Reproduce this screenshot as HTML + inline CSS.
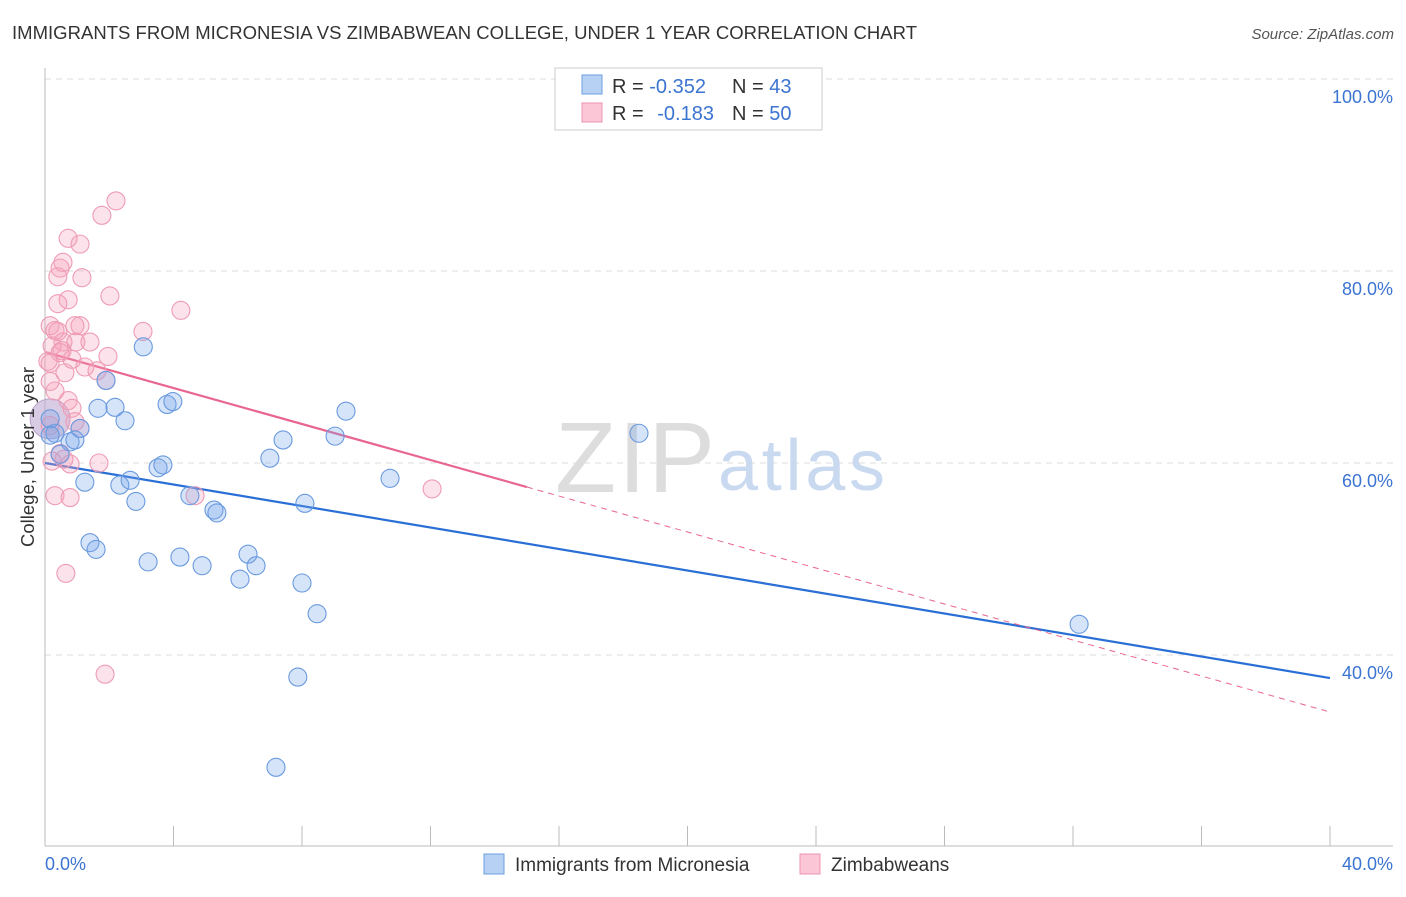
<!DOCTYPE html>
<html><head><meta charset="utf-8"><style>
body{margin:0;background:#fff;font-family:"Liberation Sans",sans-serif;}
svg text{font-family:"Liberation Sans",sans-serif;}
</style></head><body>
<svg width="1406" height="892" xmlns="http://www.w3.org/2000/svg">
<text x="12" y="39" font-size="18.5" fill="#333" textLength="905">IMMIGRANTS FROM MICRONESIA VS ZIMBABWEAN COLLEGE, UNDER 1 YEAR CORRELATION CHART</text>
<text x="1394" y="39" font-size="15" fill="#555" text-anchor="end" font-style="italic">Source: ZipAtlas.com</text>
<g id="grid"></g>
<text x="555" y="492" font-size="100" fill="#ddd" font-family="Liberation Serif" textLength="160">ZIP</text>
<text x="718" y="490" font-size="72" fill="#c9d9f0" textLength="167">atlas</text>
<g id="lines"></g>
<g id="pts"></g>
<text transform="translate(34,457) rotate(-90)" font-size="18.5" fill="#333" text-anchor="middle">College, Under 1 year</text>
<text x="45" y="870" font-size="18" fill="#3b74d1">0.0%</text>
<text x="1393" y="870" font-size="18" fill="#3b74d1" text-anchor="end">40.0%</text>
<g>
<rect x="555" y="68" width="267" height="62" fill="#fff" stroke="#ccc"/>
<rect x="582" y="75" width="20" height="19" fill="#b7d1f4" stroke="#6d9ee0"/>
<rect x="582" y="103" width="20" height="19" fill="#fbc7d6" stroke="#ec93ae"/>
<text x="612" y="93" font-size="20" fill="#333">R = <tspan fill="#3b74d1">-0.352</tspan><tspan x="732">N = </tspan><tspan fill="#3b74d1">43</tspan></text>
<text x="612" y="120" font-size="20" fill="#333">R = <tspan fill="#3b74d1" dx="8">-0.183</tspan><tspan x="732">N = </tspan><tspan fill="#3b74d1">50</tspan></text>
</g>
<g>
<rect x="484" y="854" width="20" height="20" fill="#b7d1f4" stroke="#6d9ee0"/>
<text x="515" y="871" font-size="19" fill="#333">Immigrants from Micronesia</text>
<rect x="800" y="854" width="20" height="20" fill="#fbc7d6" stroke="#ec93ae"/>
<text x="831" y="871" font-size="19" fill="#333">Zimbabweans</text>
</g>
</svg>
<script>
const yTicks=[100,80,60,40];
const blueX=[3.06,1.90,1.65,2.18,2.49,3.80,3.98,1.09,0.31,0.78,0.93,0.16,9.37,7.41,9.03,18.49,7.00,3.52,3.67,1.24,2.33,2.65,2.83,4.51,5.26,5.35,8.09,10.74,1.40,1.59,3.21,4.20,4.89,6.07,6.32,6.57,8.00,8.47,7.87,7.19,32.19,0.47,0.16];
const blueY=[72.1,68.6,65.7,65.8,64.4,66.1,66.4,63.6,63.1,62.2,62.4,64.6,65.4,62.4,62.8,63.1,60.5,59.5,59.8,58.0,57.7,58.2,56.0,56.6,55.1,54.8,55.8,58.4,51.7,51.0,49.7,50.2,49.3,47.9,50.5,49.3,47.5,44.3,37.7,28.3,43.2,60.9,62.9];
const pinkX=[2.21,1.77,0.72,1.09,0.56,0.47,0.40,1.15,0.72,0.40,2.02,4.23,3.05,0.16,0.31,0.93,0.22,0.47,0.84,0.96,0.56,1.96,1.24,1.62,0.62,0.16,0.31,0.16,1.90,0.72,0.84,0.93,0.47,0.78,1.68,0.31,0.78,4.67,12.05,0.65,1.87,0.16,0.09,0.53,1.40,0.40,0.22,1.09,0.59,1.09];
const pinkY=[87.3,85.8,83.4,82.8,80.9,80.3,79.4,79.3,77.0,76.6,77.4,75.9,73.7,74.3,73.8,74.3,72.2,71.5,70.8,72.6,72.6,71.1,70.0,69.6,69.4,70.4,67.5,68.5,68.6,66.5,65.7,64.3,61.0,59.9,60.0,56.6,56.4,56.6,57.3,48.5,38.0,63.9,70.6,71.7,72.6,73.7,60.2,63.6,60.4,74.3];
const blueTrend=[60.0,37.6];
const pinkTrend=[71.56,34.06];
const pinkSolidEnd=15.0;
const NS='http://www.w3.org/2000/svg';
const X=v=>45+v/40*1285, Y=v=>79+(100-v)*9.6;
function el(t,a,p){const e=document.createElementNS(NS,t);for(const k in a)e.setAttribute(k,a[k]);p.appendChild(e);return e;}
const grid=document.getElementById('grid');
yTicks.forEach(t=>{
 const l=el('line',{x1:45,x2:1393,y1:Y(t),y2:Y(t),stroke:'#ddd','stroke-dasharray':'6,5'},grid);
 
 
 const tx=el('text',{x:1393,y:Y(t)+24,'font-size':18,fill:'#3b74d1','text-anchor':'end'},grid);
 tx.textContent=t.toFixed(1)+'%';
 
 
});
const ax=el('line',{x1:45,x2:45,y1:68,y2:846,stroke:'#bbb'},grid);


const bx=el('line',{x1:45,x2:1393,y1:846,y2:846,stroke:'#bbb'},grid);


for(let i=1;i<=10;i++){const t=el('line',{x1:X(i*4),x2:X(i*4),y1:826,y2:846,stroke:'#bbb'},grid);
 
 }
const pts=document.getElementById('pts');
const big=el('circle',{cx:X(0.16),cy:Y(64.6),r:20,fill:'rgba(190,170,210,0.6)',stroke:'#b9a3c9'},pts);


pinkX.forEach((v,i)=>{const c=el('circle',{cx:X(v),cy:Y(pinkY[i]),r:9,fill:'rgba(245,160,185,0.3)',stroke:'#ee9cb5','stroke-width':1.1},pts);
 
 });
blueX.forEach((v,i)=>{const c=el('circle',{cx:X(v),cy:Y(blueY[i]),r:9,fill:'rgba(120,165,235,0.3)',stroke:'#6a9ade','stroke-width':1.1},pts);
 
 });
const lines=document.getElementById('lines');
const bt=el('line',{x1:X(0),y1:Y(blueTrend[0]),x2:X(40),y2:Y(blueTrend[1]),stroke:'#2a6fd6','stroke-width':2.2},lines);


const pAt=x=>pinkTrend[0]+(pinkTrend[1]-pinkTrend[0])*x/40;
const ps=el('line',{x1:X(0),y1:Y(pAt(0)),x2:X(pinkSolidEnd),y2:Y(pAt(pinkSolidEnd)),stroke:'#e8668f','stroke-width':2.2},lines);


const pd=el('line',{x1:X(pinkSolidEnd),y1:Y(pAt(pinkSolidEnd)),x2:X(40),y2:Y(pAt(40)),stroke:'#e8668f','stroke-width':1,'stroke-dasharray':'6,5'},lines);


</script>
</body></html>
